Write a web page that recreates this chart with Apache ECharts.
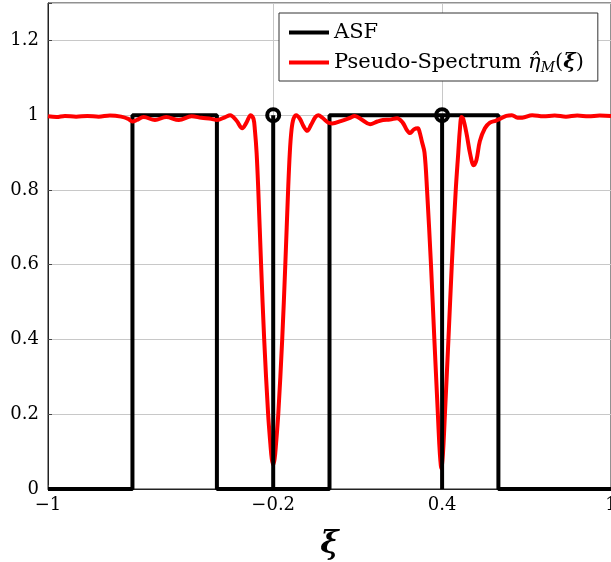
<!DOCTYPE html>
<html>
<head>
<meta charset="utf-8">
<script src="https://cdn.jsdelivr.net/npm/echarts@6/dist/echarts.min.js"></script>
<style>html,body{margin:0;padding:0;background:#fff;}#c{width:611px;height:562px;}</style>
</head>
<body>
<div id="c"></div>
<script>
// ASF step function (x, value)
const asfX = [-1, -0.7, -0.7, -0.4, -0.4, 0, 0, 0.6, 0.6, 1];
const asfY = [0, 0, 1, 1, 0, 0, 1, 1, 0, 0];
// Spikes (stems with circle markers)
const stemX = [-0.2, 0.4];
const stemY = [1, 1];
// Pseudo-spectrum samples
const psX = [-1.00,-0.97,-0.94,-0.90,-0.86,-0.82,-0.78,-0.74,-0.715,-0.70,-0.685,-0.66,-0.62,-0.58,-0.535,-0.49,-0.455,-0.42,-0.40,-0.37,-0.353,-0.33,-0.31,-0.295,-0.28,-0.27,-0.265,-0.259,-0.253,-0.243,-0.232,-0.218,-0.21,-0.205,-0.20,-0.195,-0.19,-0.182,-0.168,-0.157,-0.147,-0.141,-0.135,-0.128,-0.118,-0.105,-0.092,-0.079,-0.065,-0.05,-0.04,-0.025,-0.005,0.01,0.04,0.07,0.09,0.115,0.144,0.17,0.19,0.215,0.24,0.26,0.275,0.286,0.30,0.314,0.32,0.328,0.3375,0.3465,0.3605,0.3725,0.385,0.39,0.394,0.3975,0.401,0.405,0.41,0.4225,0.4345,0.4485,0.4575,0.463,0.469,0.475,0.487,0.50,0.512,0.522,0.534,0.552,0.57,0.59,0.605,0.628,0.648,0.668,0.685,0.72,0.76,0.80,0.84,0.88,0.92,0.96,1.00];
const psY = [0.997,0.995,0.998,0.996,0.998,0.996,0.999,0.996,0.99,0.983,0.987,0.995,0.987,0.995,0.987,0.997,0.993,0.99,0.987,0.995,1.0,0.985,0.965,0.98,1.0,0.99,0.96,0.90,0.80,0.60,0.40,0.20,0.12,0.08,0.065,0.08,0.12,0.20,0.40,0.60,0.80,0.90,0.96,0.99,1.0,0.99,0.97,0.958,0.975,0.995,1.0,0.993,0.98,0.978,0.984,0.992,0.998,0.988,0.976,0.983,0.987,0.988,0.992,0.98,0.96,0.952,0.962,0.965,0.955,0.93,0.90,0.80,0.60,0.40,0.20,0.12,0.075,0.055,0.075,0.12,0.20,0.40,0.60,0.80,0.90,0.96,0.995,0.99,0.95,0.895,0.866,0.88,0.93,0.965,0.98,0.985,0.99,0.998,1.0,0.993,0.993,1.0,0.997,0.999,0.996,0.999,0.997,0.999,0.998];
// Ticks
const xTicks = [-1, -0.2, 0.4, 1];
const yTicks = [0, 0.2, 0.4, 0.6, 0.8, 1, 1.2];
const gridX = [-0.2, 0.4];

const FONT = 'DejaVu Serif';
const zip = (a, b) => a.map((v, i) => [v, b[i]]);

const series = [
  {
    name: 'grid', type: 'line', data: [], z: 0, silent: true,
    markLine: {
      z: 0, zlevel: 0,
      silent: true, symbol: ['none', 'none'], label: {show: false},
      lineStyle: {color: '#c8c8c8', width: 1, type: 'solid'},
      emphasis: {disabled: true},
      animation: false,
      data: gridX.map(v => ({xAxis: v}))
    }
  },
  {
    name: 'ASF', type: 'line', data: zip(asfX, asfY), symbol: 'none',
    lineStyle: {color: '#000', width: 4}, itemStyle: {color: '#000'}, z: 2
  },
  {
    name: 'Pseudo-Spectrum', type: 'line', data: zip(psX, psY), symbol: 'none',
    smooth: 0.35,
    lineStyle: {color: '#ff0000', width: 4}, itemStyle: {color: '#ff0000'}, z: 3
  }
];
stemX.forEach((x, i) => {
  series.push({
    name: 'stem' + i, type: 'line', data: [[x, 0], [x, stemY[i]]], z: 4,
    symbol: 'none', silent: true,
    lineStyle: {color: '#000', width: 4}, itemStyle: {color: '#000'}
  });
});
series.push({
  name: 'stemHeads', type: 'scatter', data: zip(stemX, stemY), z: 5,
  symbol: 'circle', symbolSize: 12, silent: true,
  itemStyle: {color: 'rgba(255,255,255,0)', borderColor: '#000', borderWidth: 4, opacity: 1}
});

const chart = echarts.init(document.getElementById('c'), null, {renderer: 'canvas'});
chart.setOption({
  animation: false,
  backgroundColor: '#fff',
  grid: {left: 48, right: 0, top: 3, bottom: 73, outerBoundsMode: 'none', containLabel: false,
         show: true, borderColor: '#222', borderWidth: 1, backgroundColor: 'transparent'},
  legend: {
    data: [
      {name: 'ASF', icon: 'rect'},
      {name: 'Pseudo-Spectrum', icon: 'rect'}
    ],
    orient: 'vertical', left: 279, top: 13,
    itemWidth: 40, itemHeight: 4, itemGap: 9,
    padding: [9, 14, 6, 10],
    borderColor: '#333', borderWidth: 1, backgroundColor: '#fff',
    textStyle: {
      fontFamily: FONT, fontSize: 21, color: '#000',
      rich: {
        t: {fontFamily: FONT, fontSize: 21, color: '#000'},
        e: {fontFamily: FONT, fontSize: 21, fontStyle: 'italic', color: '#000'},
        s: {fontFamily: FONT, fontSize: 14, fontStyle: 'italic', color: '#000', verticalAlign: 'bottom', lineHeight: 25},
        b: {fontFamily: FONT, fontSize: 21, fontStyle: 'italic', fontWeight: 'bold', color: '#000'}
      }
    },
    formatter: n => n === 'ASF' ? 'ASF' : '{t|Pseudo-Spectrum }{e|η\u0302}{s|M}{t|(}{b|ξ}{t|)}'
  },
  xAxis: {
    type: 'value', min: -1, max: 1,
    name: 'ξ', nameLocation: 'middle', nameGap: 40,
    nameTextStyle: {fontFamily: FONT, fontSize: 31, fontStyle: 'italic', fontWeight: 'bold', color: '#000'},
    axisLine: {show: true, onZero: false, lineStyle: {color: '#222', width: 1}},
    axisTick: {show: true, inside: true, length: 4, customValues: xTicks, lineStyle: {color: '#444'}},
    axisLabel: {
      customValues: xTicks, fontFamily: FONT, fontSize: 18, color: '#000', margin: 7,
      showMinLabel: true, showMaxLabel: true,
      formatter: v => String(v).replace('-', '\u2212')
    },
    splitLine: {show: false}
  },
  yAxis: {
    type: 'value', min: 0, max: 1.3, interval: 0.2,
    axisLine: {show: true, onZero: false, lineStyle: {color: '#222', width: 1}},
    axisTick: {show: true, inside: true, length: 4, lineStyle: {color: '#444'}},
    axisLabel: {
      fontFamily: FONT, fontSize: 18, color: '#000', margin: 9,
      formatter: v => (yTicks.some(t => Math.abs(t - v) < 1e-9) ? String(Math.round(v * 10) / 10) : '')
    },
    splitLine: {show: true, lineStyle: {color: '#c8c8c8', width: 1}}
  },
  series: series
});
</script>
</body>
</html>
